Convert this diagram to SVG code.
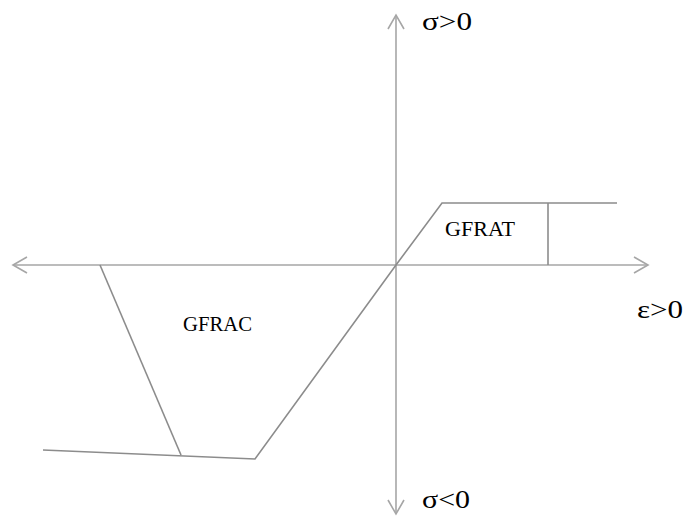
<svg xmlns="http://www.w3.org/2000/svg" width="685" height="517" viewBox="0 0 685 517">
<style>
.ax{stroke:#a6a6a6;stroke-width:1.6;fill:none}
.ln{stroke:#8c8c8c;stroke-width:1.6;fill:none}
.t{font-family:"Liberation Serif","Times New Roman",serif;fill:#000}
</style>
<rect width="685" height="517" fill="#fff"/>
<g id="connectors">
<g id="axis-x">
<line class="ax" x1="13" y1="265" x2="648" y2="265"/>
<polyline class="ax" points="27,257 13,265 27,273"/>
<polyline class="ax" points="634,257 648,265 634,273"/>
</g>
<g id="axis-y">
<line class="ax" x1="396" y1="15" x2="396" y2="514"/>
<polyline class="ax" points="388,29 396,15 404,29"/>
<polyline class="ax" points="388,500 396,514 404,500"/>
</g>
<g id="curve">
<polyline class="ln" points="617,203 442,203 396,265 255,459 43,450"/>
<line class="ln" x1="548" y1="203" x2="548" y2="265"/>
<line class="ln" x1="100" y1="265" x2="181" y2="455"/>
</g>
</g>
<g id="labels">
<text class="t" x="422" y="30" font-size="26" textLength="50" lengthAdjust="spacingAndGlyphs">σ&gt;0</text>
<text class="t" x="422" y="508" font-size="26" textLength="48" lengthAdjust="spacingAndGlyphs">σ&lt;0</text>
<text class="t" x="637" y="318" font-size="26" textLength="46" lengthAdjust="spacingAndGlyphs">ε&gt;0</text>
<text class="t" x="445" y="236" font-size="21" textLength="70" lengthAdjust="spacingAndGlyphs">GFRAT</text>
<text class="t" x="183" y="331" font-size="21" textLength="69" lengthAdjust="spacingAndGlyphs">GFRAC</text>
</g>
</svg>
